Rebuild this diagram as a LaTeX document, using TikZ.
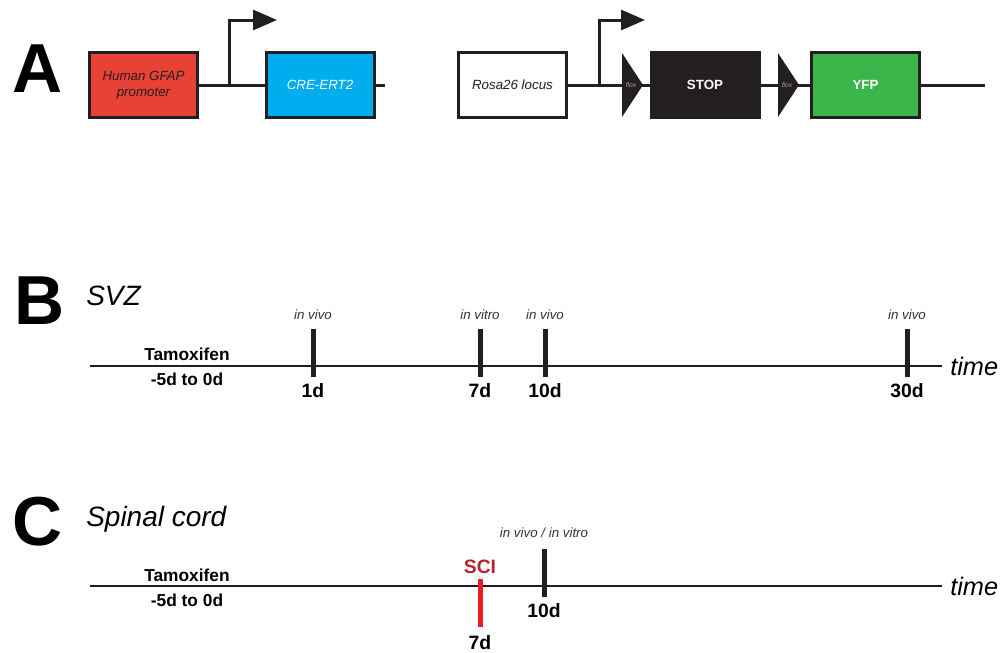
\documentclass[tikz,border=0pt]{standalone}
\usepackage{fontspec}
\setmainfont{Liberation Sans}
\usetikzlibrary{positioning, arrows.meta}
\definecolor{gfapred}{RGB}{234,65,54}
\definecolor{creblue}{RGB}{0,174,239}
\definecolor{yfpgreen}{RGB}{59,181,74}
\definecolor{boxblack}{RGB}{35,31,32}
\definecolor{scired}{RGB}{178,38,48}
\definecolor{scitick}{RGB}{237,28,36}

\begin{document}
\begin{tikzpicture}[
    x=0.75pt, y=-0.75pt,
    every node/.style={align=center, inner sep=0pt},
    panel/.style={font=\fontsize{52}{52}\selectfont\bfseries, anchor=base west},
    title/.style={font=\fontsize{21}{24}\selectfont\itshape, anchor=base west},
    gene/.style={draw=boxblack, line width=2.25pt, minimum width=81pt,
                 minimum height=49pt, font=\fontsize{10}{12}\selectfont\itshape},
    genebold/.style={gene, font=\fontsize{10}{12}\selectfont\bfseries, text=white},
    dna/.style={draw=boxblack, line width=2.25pt},
    promo/.style={dna, -{Triangle[length=18pt, width=15pt]}},
    flox/.style={fill=boxblack},
    floxtxt/.style={font=\fontsize{5}{5}\selectfont\itshape, text=black!35},
    axis/.style={draw=boxblack, line width=1.9pt},
    tickmark/.style={draw=boxblack, line width=3.75pt},
    sample/.style={font=\fontsize{10}{12}\selectfont\itshape, text=black!80},
    day/.style={font=\fontsize{14.5}{16}\selectfont\bfseries},
    tamox/.style={font=\fontsize{13}{15}\selectfont\bfseries, anchor=base},
    timelbl/.style={font=\fontsize{19}{22}\selectfont\itshape, anchor=west},
  ]
  \useasboundingbox (0,0) rectangle (1004,653);

  % A: constructs
  \node[panel] (labA) at (12,92) {A};
  \node[gene, fill=gfapred, text=boxblack] (gfap) at (143.5,85) {Human GFAP\\promoter};
  \node[gene, fill=creblue, text=white] (cre) at (320,85) {CRE-ERT2};
  \coordinate (creend) at (385,85);
  \draw[dna] (gfap.east) -- (cre.west);
  \draw[dna] (cre.east) -- (creend);
  \coordinate (tssA) at (229,85);
  \coordinate (tipA) at (277,20);
  \draw[promo] (tssA) |- (tipA);

  \node[gene, fill=white, text=boxblack] (rosa) at (512.5,85) {Rosa26 locus};
  \node[genebold, fill=boxblack] (stop) at (705,85) {STOP};
  \node[genebold, fill=yfpgreen] (yfp) at (865.5,85) {YFP};
  \coordinate (rosaend) at (985,85);
  \draw[dna] (rosa.east) -- (stop.west);
  \draw[dna] (stop.east) -- (yfp.west);
  \draw[dna] (yfp.east) -- (rosaend);
  \coordinate (tssB) at (599,85);
  \coordinate (tipB) at (645,20);
  \draw[promo] (tssB) |- (tipB);
  \foreach \fx/\fname in {622/floxA, 778/floxB} {
    \fill[flox] (\fx,53) -- (\fx+21,85) -- (\fx,117) -- cycle;
    \node[floxtxt] (\fname) at (\fx+9,85) {flox};
  }

  % B: SVZ timeline
  \node[panel] (labB) at (14,324) {B};
  \node[title] (svz) at (86,305) {SVZ};
  \coordinate (axBs) at (90,366);
  \coordinate (axBe) at (942,366);
  \draw[axis] (axBs) -- (axBe);
  \node[timelbl] (timeB) at (950,366) {time};
  \node[tamox] (tamB) at (187,360) {Tamoxifen};
  \node[tamox] (perB) at (187,385) {-5d to 0d};
  \foreach \tx/\tname/\where/\day in {313/dA/in vivo/1d, 480/dB/in vitro/7d,
                                      545/dC/in vivo/10d, 907/dD/in vivo/30d} {
    \coordinate (\tname t) at (\tx,329);
    \coordinate (\tname b) at (\tx,377);
    \draw[tickmark] (\tname t) -- (\tname b);
    \node[sample, above=6.5pt of \tname t] (\tname s) {\where};
    \node[day, below=4.5pt of \tname b] (\tname l) {\day};
  }

  % C: spinal cord timeline
  \node[panel] (labC) at (12,545) {C};
  \node[title] (spinal) at (86,526) {Spinal cord};
  \coordinate (axCs) at (90,586);
  \coordinate (axCe) at (942,586);
  \draw[axis] (axCs) -- (axCe);
  \node[timelbl] (timeC) at (950,586) {time};
  \node[tamox] (tamC) at (187,581) {Tamoxifen};
  \node[tamox] (perC) at (187,606) {-5d to 0d};
  \coordinate (scit) at (480,579);
  \coordinate (scib) at (480,627);
  \draw[tickmark, draw=scitick] (scit) -- (scib);
  \node[day, text=scired, above=4pt of scit] (sci) {SCI};
  \node[day, below=6pt of scib] (sciday) {7d};
  \coordinate (tent) at (544,549);
  \coordinate (tenb) at (544,597);
  \draw[tickmark] (tent) -- (tenb);
  \node[sample, above=8pt of tent] (tens) {in vivo / in vitro};
  \node[day, below=4.5pt of tenb] (tenl) {10d};
\end{tikzpicture}
\end{document}
